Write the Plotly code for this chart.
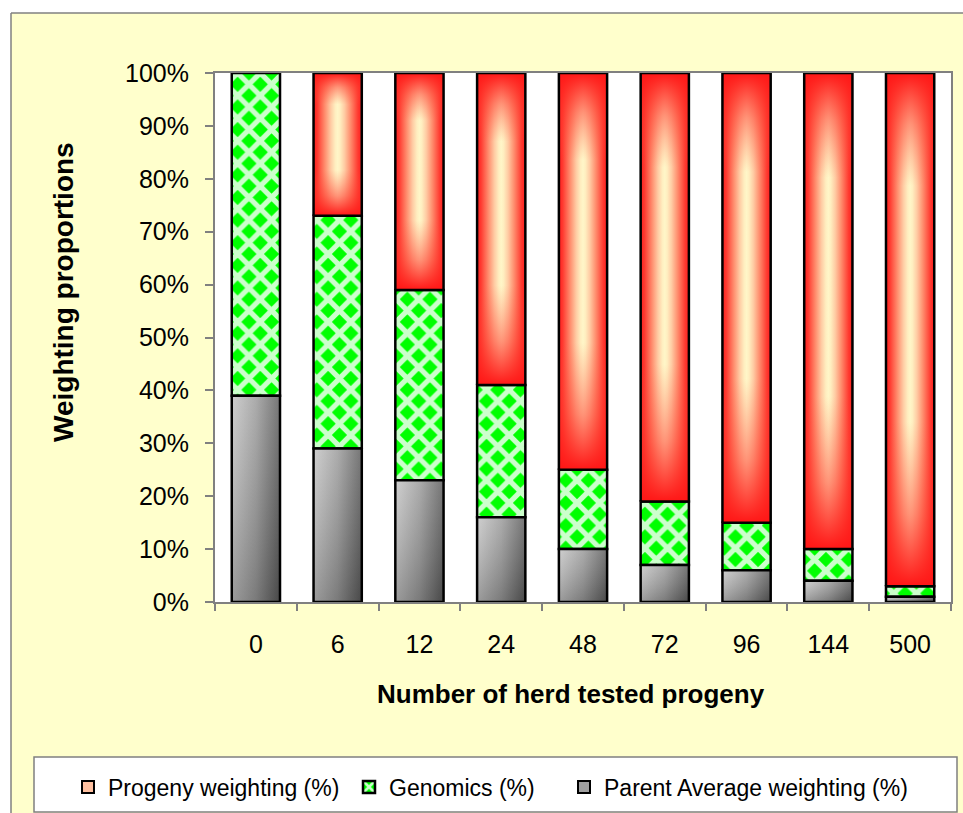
import plotly.graph_objects as go

# Weighting proportions by number of herd tested progeny
categories = ["0", "6", "12", "24", "48", "72", "96", "144", "500"]
parent_average = [39, 29, 23, 16, 10, 7, 6, 4, 1]
genomics = [61, 44, 36, 25, 15, 12, 9, 6, 2]
progeny = [0, 27, 41, 59, 75, 81, 85, 90, 97]

series_names = ["Progeny weighting (%)", "Genomics (%)", "Parent Average weighting (%)"]

BAR_W = 0.59
FONT = "Liberation Sans, Arial, sans-serif"
EDGE = "#000000"

# chart geometry (pixels) used to place paper-referenced decorations
W, H = 963, 813
L, R, T, B = 215, 12, 73, 211
PW, PH = W - L - R, H - T - B


def px(x):
    return (x - L) / PW


def py(y):
    return (H - B - y) / PH


fig = go.Figure()


def rect(i, bottom, top):
    x0, x1 = i - BAR_W / 2, i + BAR_W / 2
    return [x0, x1, x1, x0, x0], [bottom, bottom, top, top, bottom]


# parent average: grey gradient, light at top-left, dark at bottom-right
for i, v in enumerate(parent_average):
    if v <= 0:
        continue
    xs, ys = rect(i, 0, v)
    fig.add_trace(go.Scatter(
        x=xs, y=ys, mode="none", fill="toself",
        fillgradient=dict(type="horizontal",
                          colorscale=[[0, "#C6C6C6"], [0.5, "#9C9C9C"], [1, "#5C5C5C"]]),
        showlegend=False, hoverinfo="skip",
    ))
    fig.add_trace(go.Scatter(
        x=xs, y=ys, mode="lines", fill="toself",
        line=dict(color=EDGE, width=2.5),
        fillgradient=dict(type="vertical",
                          colorscale=[[0, "rgba(0,0,0,0.22)"], [1, "rgba(255,255,255,0.16)"]]),
        showlegend=False, hoverinfo="skip",
    ))

# progeny: red with a pale vertical core fading to red at the ends
for i, v in enumerate(progeny):
    if v <= 0:
        continue
    bottom = parent_average[i] + genomics[i]
    xs, ys = rect(i, bottom, bottom + v)
    fig.add_trace(go.Scatter(
        x=xs, y=ys, mode="none", fill="toself",
        fillgradient=dict(type="horizontal",
                          colorscale=[[0, "#FF1E1E"], [0.08, "#FF3A30"], [0.24, "#FF9070"],
                                      [0.36, "#FFCCA4"], [0.45, "#FFEEC0"], [0.5, "#FFF6C8"],
                                      [0.55, "#FFEEC0"], [0.64, "#FFCCA4"], [0.76, "#FF9070"],
                                      [0.92, "#FF3A30"], [1, "#FF1E1E"]]),
        showlegend=False, hoverinfo="skip",
    ))
    fig.add_trace(go.Scatter(
        x=xs, y=ys, mode="lines", fill="toself",
        line=dict(color=EDGE, width=2.5),
        fillgradient=dict(type="vertical",
                          colorscale=[[0, "rgba(255,22,22,1)"], [0.14, "rgba(255,50,40,0.5)"],
                                      [0.32, "rgba(255,80,60,0)"], [0.78, "rgba(255,80,60,0)"],
                                      [0.9, "rgba(255,50,40,0.5)"], [1, "rgba(255,22,22,1)"]]),
        showlegend=False, hoverinfo="skip",
    ))

# genomics: green diamond pattern stacked on parent average
fig.add_trace(go.Bar(
    x=list(range(len(categories))), y=genomics, base=parent_average,
    width=BAR_W, name=series_names[1], legendrank=2, legendwidth=170,
    marker=dict(color="#00FF00", line=dict(color=EDGE, width=2.5),
                pattern=dict(shape="x", bgcolor="#00FF00", fgcolor="#CCFFCC",
                             size=16, solidity=0.55, fillmode="replace")),
    hoverinfo="skip",
))

# legend swatches for the gradient series
fig.add_trace(go.Bar(x=[None], y=[None], name=series_names[0], legendrank=1, legendwidth=236,
                     marker=dict(color="#FFC0A0", line=dict(color=EDGE, width=2))))
fig.add_trace(go.Bar(x=[None], y=[None], name=series_names[2], legendrank=3,
                     marker=dict(color="#A0A0A0", line=dict(color=EDGE, width=2))))

shapes = [
    # white page strips outside the chart frame
    dict(type="rect", xref="paper", yref="paper", x0=px(-20), x1=px(1000), y0=py(13), y1=py(-20),
         fillcolor="white", line=dict(width=0), layer="below"),
    dict(type="rect", xref="paper", yref="paper", x0=px(-20), x1=px(11), y0=py(900), y1=py(13),
         fillcolor="white", line=dict(width=0), layer="below"),
    dict(type="line", xref="paper", yref="paper", x0=px(11), x1=px(1000), y0=py(13), y1=py(13),
         line=dict(color="#808080", width=1.5)),
    dict(type="line", xref="paper", yref="paper", x0=px(11), x1=px(11), y0=py(13), y1=py(900),
         line=dict(color="#808080", width=1.5)),
    # legend frame
    dict(type="rect", xref="paper", yref="paper", x0=px(34), x1=px(957), y0=py(812), y1=py(757),
         fillcolor="white", line=dict(color="#808080", width=1.5), layer="below"),
]

annotations = [
    dict(text="<b>Number of herd tested progeny</b>", xref="paper", yref="paper",
         x=px(571), y=py(694), showarrow=False, font=dict(size=26, color="black", family=FONT),
         xanchor="center", yanchor="middle"),
    dict(text="<b>Weighting proportions</b>", xref="paper", yref="paper",
         x=px(63), y=py(292), showarrow=False, textangle=-90,
         font=dict(size=28, color="black", family=FONT),
         xanchor="center", yanchor="middle"),
]

fig.update_layout(
    width=W, height=H,
    margin=dict(l=L, r=R, t=T, b=B, pad=0, autoexpand=False),
    paper_bgcolor="#FFFFCC", plot_bgcolor="white",
    barmode="overlay",
    font=dict(family=FONT, color="black", size=25),
    shapes=shapes, annotations=annotations,
    showlegend=True,
    legend=dict(orientation="h", x=px(68), y=py(787), xanchor="left", yanchor="middle",
                bgcolor="rgba(0,0,0,0)", font=dict(size=23, family=FONT),
                traceorder="normal", itemwidth=30),
)

fig.update_xaxes(
    range=[-0.5, len(categories) - 0.5], automargin=False,
    tickvals=list(range(len(categories))), ticktext=categories,
    ticks="outside", ticklen=0, tickcolor="rgba(0,0,0,0)",
    minor=dict(tick0=-0.5, dtick=1, ticks="outside", ticklen=7, tickcolor="#808080", tickwidth=1.5),
    showline=True, linecolor="#808080", linewidth=2, mirror=True,
    showgrid=False, zeroline=False, ticklabelstandoff=19,
    tickfont=dict(size=25),
)
fig.update_yaxes(
    range=[0, 100], dtick=10, ticksuffix="%", automargin=False,
    ticks="outside", ticklen=8, tickcolor="#808080", tickwidth=1.5,
    showline=True, linecolor="#808080", linewidth=2, mirror=True,
    showgrid=False, zeroline=False, ticklabelstandoff=11,
    tickfont=dict(size=25),
)

fig.write_html("out.html")
